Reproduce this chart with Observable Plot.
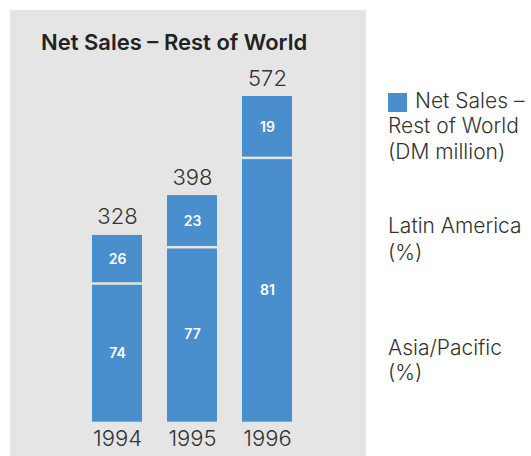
<!DOCTYPE html>
<html>
<head>
<meta charset="utf-8">
<script src="https://cdn.jsdelivr.net/npm/d3@7"></script>
<script src="https://cdn.jsdelivr.net/npm/@observablehq/plot@0.6"></script>
<style>
  html, body { margin: 0; padding: 0; background: #fff; }
  #wrap { position: relative; width: 531px; height: 456px; overflow: hidden; font-family: Inter, "Liberation Sans", sans-serif; }
  #panel { position: absolute; left: 10px; top: 10px; width: 356px; height: 446px; background: #e5e5e5; }
  #chart { position: absolute; left: 0; top: 0; }
  #overlay { position: absolute; left: 0; top: 0; }
</style>
</head>
<body>
<div id="wrap">
  <div id="panel"></div>
  <div id="chart"></div>
  <svg id="overlay" width="531" height="456"></svg>
</div>
<script>
const years = ["1994", "1995", "1996"];
const totals = [328, 398, 572];           // Net Sales – Rest of World, DM million
const latinAmerica = [26, 23, 19];        // %
const asiaPacific = [74, 77, 81];         // %
const title = "Net Sales – Rest of World";
const legendLines = [["Net Sales –", "Rest of World", "(DM million)"], ["Latin America", "(%)"], ["Asia/Pacific", "(%)"]];

const blue = "#4a8fcd";
const font = "Inter, 'Liberation Sans', sans-serif";

const asiaSegs = years.map((y, i) => ({year: y, pct: asiaPacific[i], y1: 0, y2: totals[i] * asiaPacific[i] / 100}));
const latinSegs = years.map((y, i) => ({year: y, pct: latinAmerica[i], y1: totals[i] * asiaPacific[i] / 100, y2: totals[i]}));
const totalData = years.map((y, i) => ({year: y, total: totals[i]}));

const plot = Plot.plot({
  width: 531,
  height: 456,
  marginLeft: 78.25,
  marginRight: 226.25,
  marginTop: 96,
  marginBottom: 34.3,
  style: {background: "transparent", fontFamily: font},
  x: {domain: years, paddingInner: 0.338, paddingOuter: 0.169, axis: null},
  y: {domain: [0, 572], axis: null},
  marks: [
    Plot.rectY(asiaSegs, {x: "year", y1: "y1", y2: "y2", fill: blue, insetTop: 1.25}),
    Plot.rectY(latinSegs, {x: "year", y1: "y1", y2: "y2", fill: blue, insetBottom: 1.25}),
    Plot.text([...asiaSegs, ...latinSegs], {x: "year", y: d => (d.y1 + d.y2) / 2, text: d => String(d.pct),
      fill: "white", fontSize: 14, fontWeight: 600}),
    Plot.text(totalData, {x: "year", y: "total", text: d => String(d.total),
      fill: "#333", fontSize: 22, fontWeight: 300, dy: -18}),
    Plot.text(totalData, {x: "year", y: () => 0, text: "year",
      fill: "#333", fontSize: 22, fontWeight: 300, dy: 16.5})
  ]
});
document.getElementById("chart").appendChild(plot);

// overlay: title and legend
const svg = d3.select("#overlay");
svg.append("text").attr("x", 41).attr("y", 50)
  .attr("font-family", font)
  .attr("font-size", 22).attr("font-weight", 600).attr("fill", "#222").text(title);

svg.append("rect").attr("x", 388).attr("y", 93).attr("width", 19).attr("height", 19).attr("fill", blue);
const baselines = [[108, 133, 159], [233, 260], [355, 380]];
legendLines.forEach((lines, gi) => {
  lines.forEach((t, li) => {
    svg.append("text").attr("x", gi === 0 && li === 0 ? 415 : 388).attr("y", baselines[gi][li])
      .attr("font-family", font)
      .attr("font-size", 21).attr("font-weight", 300).attr("fill", "#333").text(t);
  });
});
</script>
</body>
</html>
